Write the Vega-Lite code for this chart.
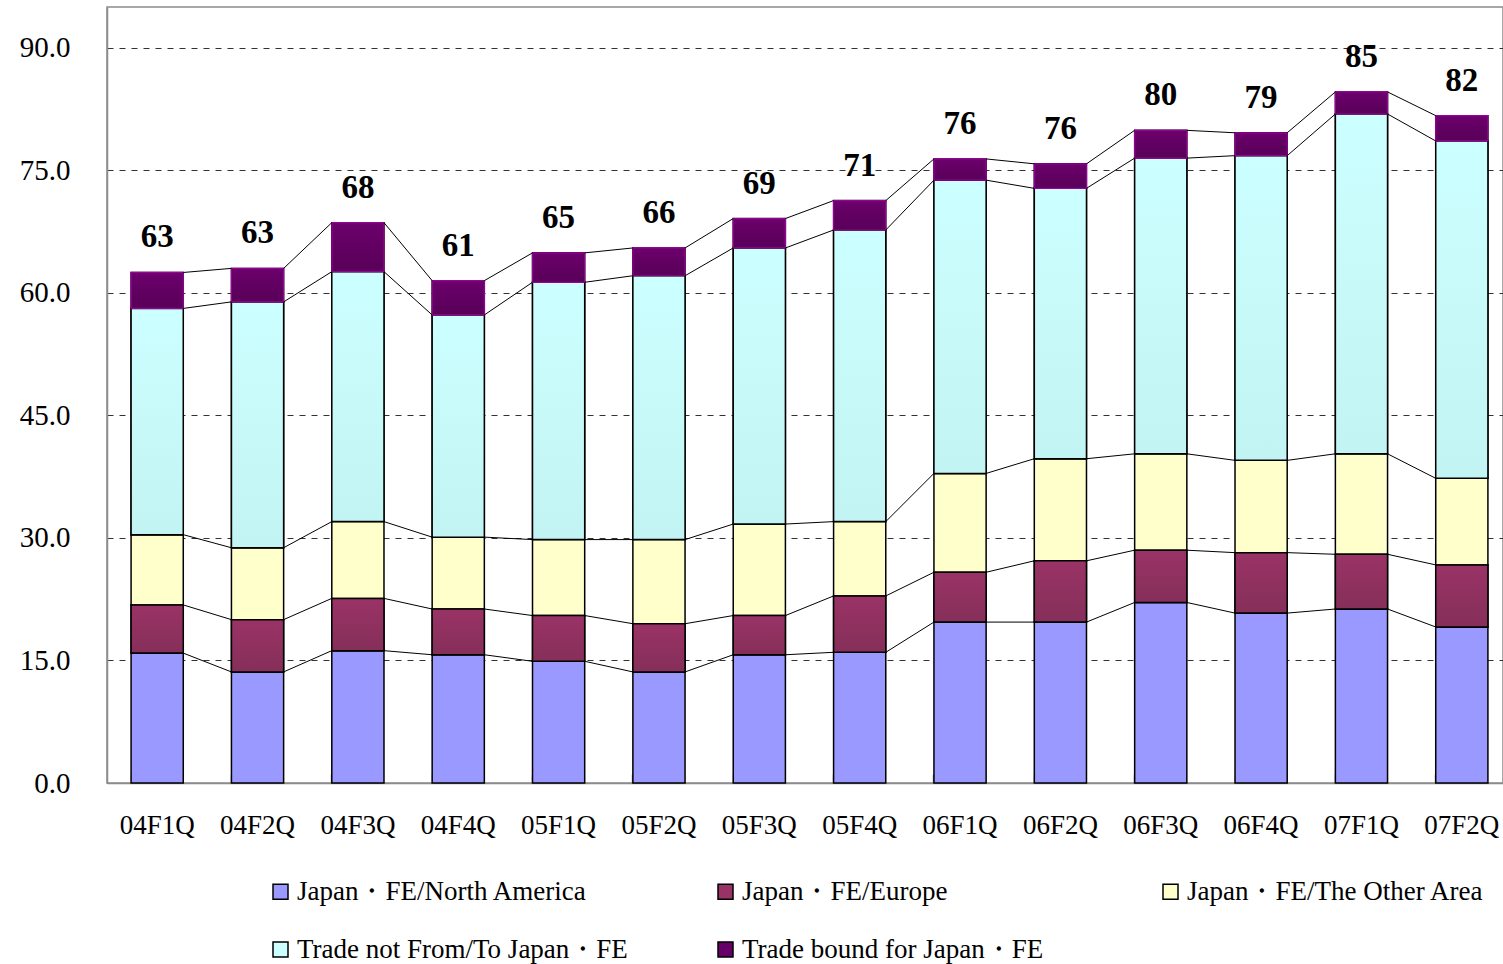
{
  "$schema": "https://vega.github.io/schema/vega-lite/v6.json",
  "width": 1396,
  "height": 776,
  "autosize": {"type": "none"},
  "padding": {"left": 107, "top": 7, "right": 0, "bottom": 181},
  "background": "white",
  "config": {
    "view": {"stroke": "#8c8c8c", "strokeWidth": 1.5},
    "font": "Liberation Serif"
  },
  "datasets": {
    "main": [
      {"q": "04F1Q", "s": "Japan・FE/North America", "v": 15.9},
      {"q": "04F1Q", "s": "Japan・FE/Europe", "v": 5.9},
      {"q": "04F1Q", "s": "Japan・FE/The Other Area", "v": 8.6},
      {"q": "04F1Q", "s": "Trade not From/To Japan・FE", "v": 27.7},
      {"q": "04F1Q", "s": "Trade bound for Japan・FE", "v": 4.4},
      {"q": "04F2Q", "s": "Japan・FE/North America", "v": 13.6},
      {"q": "04F2Q", "s": "Japan・FE/Europe", "v": 6.4},
      {"q": "04F2Q", "s": "Japan・FE/The Other Area", "v": 8.8},
      {"q": "04F2Q", "s": "Trade not From/To Japan・FE", "v": 30.1},
      {"q": "04F2Q", "s": "Trade bound for Japan・FE", "v": 4.1},
      {"q": "04F3Q", "s": "Japan・FE/North America", "v": 16.2},
      {"q": "04F3Q", "s": "Japan・FE/Europe", "v": 6.4},
      {"q": "04F3Q", "s": "Japan・FE/The Other Area", "v": 9.4},
      {"q": "04F3Q", "s": "Trade not From/To Japan・FE", "v": 30.6},
      {"q": "04F3Q", "s": "Trade bound for Japan・FE", "v": 6.0},
      {"q": "04F4Q", "s": "Japan・FE/North America", "v": 15.7},
      {"q": "04F4Q", "s": "Japan・FE/Europe", "v": 5.6},
      {"q": "04F4Q", "s": "Japan・FE/The Other Area", "v": 8.8},
      {"q": "04F4Q", "s": "Trade not From/To Japan・FE", "v": 27.2},
      {"q": "04F4Q", "s": "Trade bound for Japan・FE", "v": 4.2},
      {"q": "05F1Q", "s": "Japan・FE/North America", "v": 14.9},
      {"q": "05F1Q", "s": "Japan・FE/Europe", "v": 5.6},
      {"q": "05F1Q", "s": "Japan・FE/The Other Area", "v": 9.3},
      {"q": "05F1Q", "s": "Trade not From/To Japan・FE", "v": 31.5},
      {"q": "05F1Q", "s": "Trade bound for Japan・FE", "v": 3.6},
      {"q": "05F2Q", "s": "Japan・FE/North America", "v": 13.6},
      {"q": "05F2Q", "s": "Japan・FE/Europe", "v": 5.9},
      {"q": "05F2Q", "s": "Japan・FE/The Other Area", "v": 10.3},
      {"q": "05F2Q", "s": "Trade not From/To Japan・FE", "v": 32.3},
      {"q": "05F2Q", "s": "Trade bound for Japan・FE", "v": 3.4},
      {"q": "05F3Q", "s": "Japan・FE/North America", "v": 15.7},
      {"q": "05F3Q", "s": "Japan・FE/Europe", "v": 4.8},
      {"q": "05F3Q", "s": "Japan・FE/The Other Area", "v": 11.2},
      {"q": "05F3Q", "s": "Trade not From/To Japan・FE", "v": 33.8},
      {"q": "05F3Q", "s": "Trade bound for Japan・FE", "v": 3.6},
      {"q": "05F4Q", "s": "Japan・FE/North America", "v": 16.0},
      {"q": "05F4Q", "s": "Japan・FE/Europe", "v": 6.9},
      {"q": "05F4Q", "s": "Japan・FE/The Other Area", "v": 9.1},
      {"q": "05F4Q", "s": "Trade not From/To Japan・FE", "v": 35.7},
      {"q": "05F4Q", "s": "Trade bound for Japan・FE", "v": 3.6},
      {"q": "06F1Q", "s": "Japan・FE/North America", "v": 19.7},
      {"q": "06F1Q", "s": "Japan・FE/Europe", "v": 6.1},
      {"q": "06F1Q", "s": "Japan・FE/The Other Area", "v": 12.1},
      {"q": "06F1Q", "s": "Trade not From/To Japan・FE", "v": 35.9},
      {"q": "06F1Q", "s": "Trade bound for Japan・FE", "v": 2.6},
      {"q": "06F2Q", "s": "Japan・FE/North America", "v": 19.7},
      {"q": "06F2Q", "s": "Japan・FE/Europe", "v": 7.5},
      {"q": "06F2Q", "s": "Japan・FE/The Other Area", "v": 12.5},
      {"q": "06F2Q", "s": "Trade not From/To Japan・FE", "v": 33.1},
      {"q": "06F2Q", "s": "Trade bound for Japan・FE", "v": 3.0},
      {"q": "06F3Q", "s": "Japan・FE/North America", "v": 22.1},
      {"q": "06F3Q", "s": "Japan・FE/Europe", "v": 6.4},
      {"q": "06F3Q", "s": "Japan・FE/The Other Area", "v": 11.8},
      {"q": "06F3Q", "s": "Trade not From/To Japan・FE", "v": 36.2},
      {"q": "06F3Q", "s": "Trade bound for Japan・FE", "v": 3.4},
      {"q": "06F4Q", "s": "Japan・FE/North America", "v": 20.8},
      {"q": "06F4Q", "s": "Japan・FE/Europe", "v": 7.4},
      {"q": "06F4Q", "s": "Japan・FE/The Other Area", "v": 11.3},
      {"q": "06F4Q", "s": "Trade not From/To Japan・FE", "v": 37.3},
      {"q": "06F4Q", "s": "Trade bound for Japan・FE", "v": 2.8},
      {"q": "07F1Q", "s": "Japan・FE/North America", "v": 21.3},
      {"q": "07F1Q", "s": "Japan・FE/Europe", "v": 6.7},
      {"q": "07F1Q", "s": "Japan・FE/The Other Area", "v": 12.3},
      {"q": "07F1Q", "s": "Trade not From/To Japan・FE", "v": 41.6},
      {"q": "07F1Q", "s": "Trade bound for Japan・FE", "v": 2.7},
      {"q": "07F2Q", "s": "Japan・FE/North America", "v": 19.1},
      {"q": "07F2Q", "s": "Japan・FE/Europe", "v": 7.6},
      {"q": "07F2Q", "s": "Japan・FE/The Other Area", "v": 10.6},
      {"q": "07F2Q", "s": "Trade not From/To Japan・FE", "v": 41.3},
      {"q": "07F2Q", "s": "Trade bound for Japan・FE", "v": 3.1}
    ],
    "totals": [
      {"q": "04F1Q", "label": "63"},
      {"q": "04F2Q", "label": "63"},
      {"q": "04F3Q", "label": "68"},
      {"q": "04F4Q", "label": "61"},
      {"q": "05F1Q", "label": "65"},
      {"q": "05F2Q", "label": "66"},
      {"q": "05F3Q", "label": "69"},
      {"q": "05F4Q", "label": "71"},
      {"q": "06F1Q", "label": "76"},
      {"q": "06F2Q", "label": "76"},
      {"q": "06F3Q", "label": "80"},
      {"q": "06F4Q", "label": "79"},
      {"q": "07F1Q", "label": "85"},
      {"q": "07F2Q", "label": "82"}
    ]
  },
  "data": {"name": "main"},
  "transform": [
    {"stack": "v", "groupby": ["q"], "as": ["y0", "y1"]}
  ],
  "encoding": {
    "x": {
      "field": "q",
      "type": "ordinal",
      "scale": {"range": [0, 1405], "paddingInner": 0.48, "paddingOuter": 0.24},
      "axis": {
        "title": null,
        "labelFont": "Liberation Serif",
        "labelFontSize": 27,
        "labelColor": "black",
        "labelAngle": 0,
        "tickSize": -9,
        "tickColor": "#8c8c8c",
        "tickWidth": 1.5,
        "bandPosition": 0,
        "labelPadding": 38,
        "domainColor": "#8c8c8c",
        "domainWidth": 1.5,
        "grid": false
      }
    }
  },
  "layer": [
    {
      "mark": {"type": "bar", "stroke": "black", "strokeWidth": 1.5},
      "encoding": {
        "y": {
          "field": "y1",
          "type": "quantitative",
          "scale": {"domain": [0, 95], "nice": false},
          "axis": {
            "title": null,
            "values": [0, 15, 30, 45, 60, 75, 90],
            "format": ".1f",
            "labelFont": "Liberation Serif",
            "labelFontSize": 29,
            "labelColor": "black",
            "ticks": false,
            "labelPadding": 37,
            "grid": true,
            "gridDash": [6, 6],
            "gridColor": "#333333",
            "gridWidth": 1,
            "domainColor": "#8c8c8c",
            "domainWidth": 1.5
          }
        },
        "y2": {"field": "y0"},
        "color": {
          "field": "s",
          "type": "nominal",
          "scale": {
            "domain": ["Japan・FE/North America", "Japan・FE/Europe", "Japan・FE/The Other Area", "Trade not From/To Japan・FE", "Trade bound for Japan・FE"],
            "range": ["#9999FF", "#993366", "#FFFFCC", "#CCFFFF", "#660066"]
          },
          "legend": {
            "title": null,
            "orient": "none",
            "legendX": 160,
            "legendY": 871,
            "direction": "horizontal",
            "columns": 3,
            "columnPadding": 84,
            "rowPadding": 30,
            "gridAlign": "all",
            "symbolType": "square",
            "symbolSize": 225,
            "symbolStrokeColor": "black",
            "symbolStrokeWidth": 1.5,
            "labelFont": "Liberation Serif",
            "labelFontSize": 27,
            "labelColor": "black",
            "labelOffset": 3,
            "labelLimit": 0,
            "padding": 0
          }
        }
      }
    },
    {
      "transform": [{"filter": "datum.s === 'Japan・FE/Europe'"}],
      "mark": {
        "type": "bar", "stroke": "black", "strokeWidth": 1.5,
        "fill": {"gradient": "linear", "x1": 0, "y1": 0, "x2": 0, "y2": 1,
          "stops": [{"offset": 0, "color": "#9A3366"}, {"offset": 1, "color": "#852F59"}]}
      },
      "encoding": {"y": {"field": "y1", "type": "quantitative"}, "y2": {"field": "y0"}}
    },
    {
      "transform": [{"filter": "datum.s === 'Trade not From/To Japan・FE'"}],
      "mark": {
        "type": "bar", "stroke": "black", "strokeWidth": 1.5,
        "fill": {"gradient": "linear", "x1": 0, "y1": 0, "x2": 0, "y2": 1,
          "stops": [{"offset": 0, "color": "#CCFFFF"}, {"offset": 1, "color": "#C3F4F4"}]}
      },
      "encoding": {"y": {"field": "y1", "type": "quantitative"}, "y2": {"field": "y0"}}
    },
    {
      "transform": [{"filter": "datum.s === 'Trade bound for Japan・FE'"}],
      "mark": {
        "type": "bar", "stroke": "#990099", "strokeWidth": 1.2,
        "fill": {"gradient": "linear", "x1": 0, "y1": 0, "x2": 0, "y2": 1,
          "stops": [{"offset": 0, "color": "#6C006C"}, {"offset": 1, "color": "#580058"}]}
      },
      "encoding": {"y": {"field": "y1", "type": "quantitative"}, "y2": {"field": "y0"}}
    },
    {
      "transform": [
        {
          "window": [
            {"op": "lead", "field": "y1", "as": "ny"},
            {"op": "lead", "field": "q", "as": "nq"}
          ],
          "groupby": ["s"],
          "sort": [{"field": "q", "order": "ascending"}]
        },
        {"filter": "datum.nq != null"}
      ],
      "mark": {"type": "rule", "color": "black", "strokeWidth": 1},
      "encoding": {
        "x": {"field": "q", "type": "ordinal", "bandPosition": 1},
        "x2": {"field": "nq", "bandPosition": 0},
        "y": {"field": "y1", "type": "quantitative"},
        "y2": {"field": "ny"}
      }
    },
    {
      "transform": [
        {"filter": "datum.s === 'Trade bound for Japan・FE'"},
        {"lookup": "q", "from": {"data": {"name": "totals"}, "key": "q", "fields": ["label"]}}
      ],
      "mark": {
        "type": "text",
        "font": "Liberation Serif",
        "fontSize": 33,
        "fontWeight": "bold",
        "color": "black",
        "baseline": "middle",
        "align": "center",
        "dy": -35
      },
      "encoding": {
        "y": {"field": "y1", "type": "quantitative"},
        "text": {"field": "label", "type": "nominal"}
      }
    }
  ]
}
